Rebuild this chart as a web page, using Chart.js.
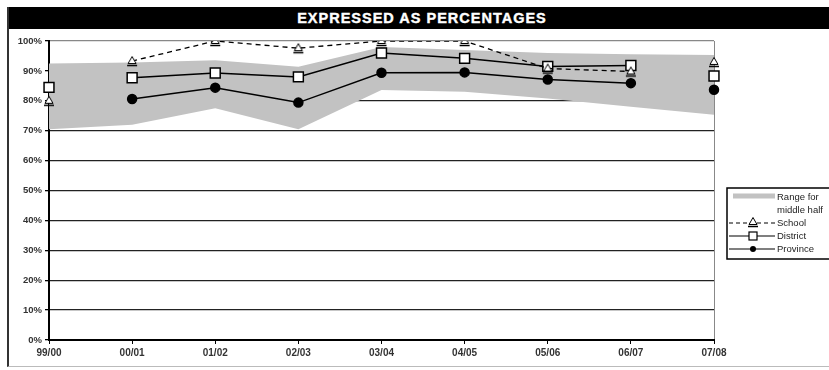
<!DOCTYPE html>
<html>
<head>
<meta charset="utf-8">
<script src="https://cdn.jsdelivr.net/npm/chart.js@4/dist/chart.umd.min.js"></script>
<style>
  html, body { margin: 0; padding: 0; background: #fff; overflow: hidden; }
  #wrap { position: relative; width: 829px; height: 370px; overflow: hidden; }
  #frame { position: absolute; left: 7px; top: 7px; width: 900px; height: 360px;
           border-left: 2px solid #333; border-bottom: 1px solid #bbb; box-sizing: border-box; }
  #title { position: absolute; left: 9px; top: 7px; width: 826px; height: 22px; background: #000;
           color: #fff; font: bold 14.5px "Liberation Sans", Arial, sans-serif; letter-spacing: 1px;
           text-align: center; line-height: 22px; -webkit-text-stroke: 0.4px #fff; }
  #c { position: absolute; left: 0; top: 0; }
</style>
</head>
<body>
<div id="wrap">
  <div id="frame"></div>
  <canvas id="c" width="829" height="370"></canvas>
  <div id="title">EXPRESSED AS PERCENTAGES</div>
</div>
<script>
// School years on the horizontal axis
const categories = ['99/00', '00/01', '01/02', '02/03', '03/04', '04/05', '05/06', '06/07', '07/08'];

// Percent results
const school   = [80, 93.3, 100, 97.6, 100, 100, 90.8, 89.8, 93];
const district = [84.5, 87.7, 89.3, 88, 96, 94.2, 91.5, 91.8, 88.3];
const province = [null, 80.6, 84.4, 79.4, 89.4, 89.5, 87.1, 85.9, 83.7];

// Range for the middle half of schools
const rangeHigh = [92.5, 92.8, 93.6, 91.4, 98, 97, 96, 95.6, 95.3];
const rangeLow  = [70.5, 72, 77.5, 70.5, 83.6, 83, 80.8, 78, 75.3];

// Y axis tick values
const yTicks = [0, 10, 20, 30, 40, 50, 60, 70, 80, 90, 100];

const FONT = '"Liberation Sans", Arial, sans-serif';
const BAND = '#c2c2c2';

// Triangle marker with a short base bar underneath
function makeTriangle() {
  const c = document.createElement('canvas');
  c.width = 14; c.height = 14;
  const g = c.getContext('2d');
  g.beginPath();
  g.moveTo(7, 2.5); g.lineTo(3, 9.5); g.lineTo(11, 9.5); g.closePath();
  g.fillStyle = '#fff'; g.fill();
  g.strokeStyle = '#000'; g.lineWidth = 1; g.stroke();
  g.beginPath(); g.moveTo(2, 11.5); g.lineTo(12, 11.5);
  g.lineWidth = 1.5; g.stroke();
  return c;
}
const triImg = makeTriangle();

// The first and last year are shown as stand-alone points
const lastIdx = categories.length - 1;
const hideEnds = ctx => (ctx.p0DataIndex === 0 || ctx.p1DataIndex === lastIdx) ? 'rgba(0,0,0,0)' : undefined;

const legendPlugin = {
  id: 'boxLegend',
  afterDraw(chart) {
    const g = chart.ctx;
    g.save();
    const x0 = 727, y0 = 188, x1 = 880, y1 = 259;
    g.strokeStyle = '#000'; g.lineWidth = 1.5;
    g.strokeRect(x0, y0, x1 - x0, y1 - y0);
    g.font = '9.5px ' + FONT;
    g.fillStyle = '#222';
    g.textBaseline = 'middle';
    const tx = 777, lx0 = 729, lx1 = 775, mx = 753;
    // band swatch
    g.fillStyle = BAND;
    g.fillRect(733, 193.5, 42, 5);
    g.fillStyle = '#222';
    g.fillText('Range for', tx, 197);
    g.fillText('middle half', tx, 210);
    // School
    let y = 223;
    g.strokeStyle = '#000'; g.lineWidth = 1.2;
    g.setLineDash([4, 3]);
    g.beginPath(); g.moveTo(lx0, y); g.lineTo(lx1, y); g.stroke();
    g.setLineDash([]);
    g.drawImage(triImg, mx - 7, y - 8);
    g.fillText('School', tx, y);
    // District
    y = 236;
    g.beginPath(); g.moveTo(lx0, y); g.lineTo(lx1, y); g.stroke();
    g.fillStyle = '#fff'; g.fillRect(mx - 4, y - 4, 8, 8);
    g.strokeRect(mx - 4, y - 4, 8, 8);
    g.fillStyle = '#222';
    g.fillText('District', tx, y);
    // Province
    y = 249;
    g.beginPath(); g.moveTo(lx0, y); g.lineTo(lx1, y); g.stroke();
    g.beginPath(); g.arc(mx, y, 3, 0, Math.PI * 2); g.fillStyle = '#000'; g.fill();
    g.fillStyle = '#222';
    g.fillText('Province', tx, y);
    g.restore();
  }
};

new Chart(document.getElementById('c'), {
  type: 'line',
  data: {
    labels: categories,
    datasets: [
      {
        label: 'Range for middle half (high)',
        data: rangeHigh, borderWidth: 0, pointRadius: 0,
        backgroundColor: BAND, fill: '+1', order: 10, tension: 0
      },
      {
        label: 'Range for middle half (low)',
        data: rangeLow, borderWidth: 0, pointRadius: 0,
        backgroundColor: BAND, fill: false, order: 11, tension: 0
      },
      {
        label: 'Province', data: province, order: 3,
        borderColor: '#000', borderWidth: 1.5, fill: false,
        pointStyle: 'circle', pointRadius: 4.5, pointBackgroundColor: '#000', pointBorderColor: '#000',
        segment: { borderColor: hideEnds }
      },
      {
        label: 'District', data: district, order: 2,
        borderColor: '#000', borderWidth: 1.5, fill: false,
        pointStyle: 'rect', pointRadius: 7, pointBorderWidth: 1.5,
        pointBackgroundColor: '#fff', pointBorderColor: '#000',
        segment: { borderColor: hideEnds }
      },
      {
        label: 'School', data: school, order: 1,
        borderColor: '#000', borderWidth: 1.3, borderDash: [5, 4], fill: false,
        pointStyle: triImg, pointRadius: 6,
        segment: { borderColor: hideEnds }
      }
    ]
  },
  options: {
    responsive: false,
    animation: false,
    events: [],
    layout: { padding: { left: 0, top: 41, right: 115, bottom: 0 } },
    plugins: { legend: { display: false }, tooltip: { enabled: false }, title: { display: false } },
    scales: {
      x: {
        offset: false,
        afterFit(s) { s.height = 30; },
        grid: {
          color: c => c.index === lastIdx ? '#888' : 'rgba(0,0,0,0)',
          lineWidth: 1, tickColor: '#000', tickLength: 4, drawTicks: true
        },
        border: { display: true, color: '#000', width: 2 },
        ticks: { color: '#333', font: { family: FONT, size: 10, weight: 'bold' }, padding: 3, maxRotation: 0, autoSkip: false }
      },
      y: {
        min: 0, max: 100,
        afterFit(s) { s.width = 49; },
        afterBuildTicks(s) { s.ticks = yTicks.map(v => ({ value: v })); },
        grid: {
          color: c => c.tick && c.tick.value === 100 ? '#888' : '#222',
          lineWidth: 1.3, tickColor: '#000', tickLength: 4
        },
        border: { display: true, color: '#000', width: 2 },
        ticks: {
          color: '#333', font: { family: FONT, size: 9.5, weight: 'bold' }, padding: 3,
          callback: v => v + '%'
        }
      }
    }
  },
  plugins: [legendPlugin]
});
</script>
</body>
</html>
